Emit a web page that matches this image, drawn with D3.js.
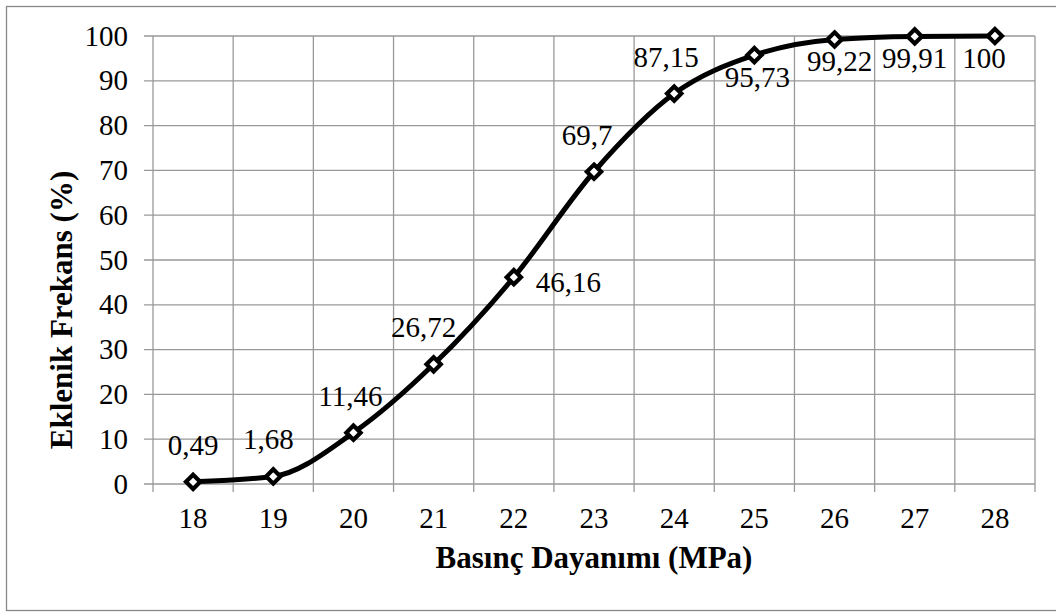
<!DOCTYPE html>
<html lang="tr">
<head>
  <meta charset="UTF-8">
  <title>Eklenik Frekans</title>
  <script src="https://d3js.org/d3.v7.min.js"></script>
  <style>
    body { margin: 0; background: #fff; }
    text { font-family: "Liberation Serif", "Times New Roman", serif; fill: #000; }
  </style>
</head>
<body>
<div class="canvas"></div>
<script>
  // veriler
  const categories = [18, 19, 20, 21, 22, 23, 24, 25, 26, 27, 28]
  const values = [0.49, 1.68, 11.46, 26.72, 46.16, 69.7, 87.15, 95.73, 99.22, 99.91, 100]
  const yTicks = [0, 10, 20, 30, 40, 50, 60, 70, 80, 90, 100]
  const xTitle = 'Basınç Dayanımı (MPa)'
  const yTitle = 'Eklenik Frekans (%)'

  // etiket yerleşimi (t = üst, r = sağ, b = alt)
  const labelPos = ['t', 't', 't', 't', 'r', 't', 't', 'b', 'b', 'b', 'b']
  const labelDx = [0, -5, -3, -10, 0, -7, -8, 3, 5, 0, -11]

  const W = 1056, H = 612
  const plot = { left: 153, right: 1035, top: 36, bottom: 484 }
  const grid = '#999'
  const fs = 29

  const svg = d3.select('.canvas')
    .append('svg')
    .attr('width', W)
    .attr('height', H)

  // dış çerçeve
  svg.append('rect')
    .attr('x', 6.5).attr('y', 6.5)
    .attr('width', W).attr('height', 604)
    .attr('fill', '#fff')
    .attr('stroke', '#888')
    .attr('stroke-width', 1.3)

  const x = d3.scaleBand()
    .domain(categories)
    .range([plot.left, plot.right])
  const y = d3.scaleLinear()
    .domain([0, 100])
    .range([plot.bottom, plot.top])

  // yatay ızgara + y tikleri
  svg.append('g')
    .selectAll('line')
    .data(yTicks)
    .enter()
    .append('line')
    .attr('x1', plot.left - 9)
    .attr('x2', plot.right)
    .attr('y1', d => y(d))
    .attr('y2', d => y(d))
    .attr('stroke', grid)
    .attr('stroke-width', 1.3)

  // dikey ızgara (kategori sınırları) + x tikleri
  const bounds = categories.map(c => x(c)).concat([x(categories[categories.length - 1]) + x.bandwidth()])
  svg.append('g')
    .selectAll('line')
    .data(bounds)
    .enter()
    .append('line')
    .attr('x1', d => d)
    .attr('x2', d => d)
    .attr('y1', plot.top)
    .attr('y2', plot.bottom + 8)
    .attr('stroke', grid)
    .attr('stroke-width', 1.3)

  // y etiketleri
  svg.append('g')
    .selectAll('text')
    .data(yTicks)
    .enter()
    .append('text')
    .attr('x', 128)
    .attr('y', d => y(d))
    .attr('dy', '0.33em')
    .attr('text-anchor', 'end')
    .attr('font-size', fs)
    .text(d => d)

  // x etiketleri
  svg.append('g')
    .selectAll('text')
    .data(categories)
    .enter()
    .append('text')
    .attr('x', d => x(d) + x.bandwidth() / 2)
    .attr('y', 528)
    .attr('text-anchor', 'middle')
    .attr('font-size', fs)
    .text(d => d)

  // eksen başlıkları
  svg.append('text')
    .attr('x', (plot.left + plot.right) / 2)
    .attr('y', 568)
    .attr('text-anchor', 'middle')
    .attr('font-size', 31)
    .attr('font-weight', 'bold')
    .text(xTitle)

  svg.append('text')
    .attr('transform', 'translate(72, 310) rotate(-90)')
    .attr('text-anchor', 'middle')
    .attr('font-size', 31)
    .attr('font-weight', 'bold')
    .text(yTitle)

  // çizgi
  const pts = categories.map((c, i) => [x(c) + x.bandwidth() / 2, y(values[i])])
  const line = d3.line().curve(d3.curveMonotoneX)
  svg.append('path')
    .attr('d', line(pts))
    .attr('fill', 'none')
    .attr('stroke', '#000')
    .attr('stroke-width', 5)
    .attr('stroke-linejoin', 'round')

  // işaretçiler (elmas)
  const diamond = d3.symbol().type(d3.symbolDiamond2).size(130)
  svg.append('g')
    .selectAll('path')
    .data(pts)
    .enter()
    .append('path')
    .attr('d', diamond)
    .attr('transform', d => `translate(${d[0]}, ${d[1]})`)
    .attr('fill', '#fff')
    .attr('stroke', '#000')
    .attr('stroke-width', 4.2)

  // veri etiketleri
  svg.append('g')
    .selectAll('text')
    .data(pts)
    .enter()
    .append('text')
    .attr('x', (d, i) => labelPos[i] === 'r' ? d[0] + 22 : d[0] + labelDx[i])
    .attr('y', (d, i) => labelPos[i] === 't' ? d[1] - 27 : labelPos[i] === 'b' ? d[1] + 32 : d[1] + 15)
    .attr('text-anchor', (d, i) => labelPos[i] === 'r' ? 'start' : 'middle')
    .attr('font-size', fs)
    .text((d, i) => String(values[i]).replace('.', ','))
</script>
</body>
</html>
